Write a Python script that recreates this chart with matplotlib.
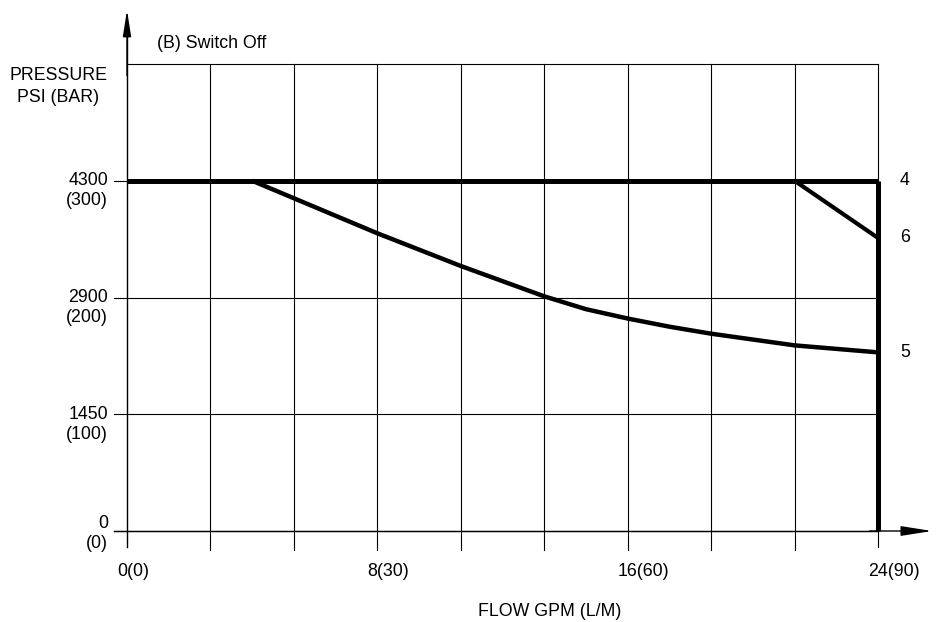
import matplotlib
matplotlib.use("Agg")
import matplotlib.pyplot as plt

plt.rcParams['font.family'] = ['Liberation Sans', 'DejaVu Sans']

# ---- data (flow in L/M, pressure in bar) ----
flow_grid = [0, 10, 20, 30, 40, 50, 60, 70, 80, 90]
pressure_grid = [0, 100, 200, 300, 400]

x_tick_values = [0, 30, 60, 90]
x_tick_labels = ["0(0)", "8(30)", "16(60)", "24(90)"]

y_tick_values = [300, 200, 100, 0]
y_tick_psi = ["4300", "2900", "1450", "0"]
y_tick_bar = ["(300)", "(200)", "(100)", "(0)"]

curve4_flow = [0, 90]
curve4_pressure = [300, 300]

curve6_flow = [80, 90]
curve6_pressure = [300, 251]

curve5_flow = [15, 20, 30, 40, 45, 50, 55, 60, 65, 70, 75, 80, 85, 90]
curve5_pressure = [300, 285, 255, 227, 214, 201, 190, 182, 175, 169, 164, 159, 156, 153]

cutoff_flow = [90, 90]
cutoff_pressure = [300, 0]

curve_labels = ["4", "6", "5"]
curve_label_pressure = [300, 251, 153]

W, H = 938, 622
fig = plt.figure(figsize=(W / 100, H / 100), dpi=100)
ax = fig.add_axes([127 / W, (H - 531) / H, (878 - 127) / W, (531 - 64) / H])
ax.set_xlim(0, 90)
ax.set_ylim(0, 400)
ax.axis('off')

px_x = 90 / (878 - 127)   # data per pixel in x
px_y = 400 / (531 - 64)   # data per pixel in y

# grid
for f in flow_grid[1:-1]:
    ax.plot([f, f], [-19 * px_y, 400], color='black', lw=0.8, clip_on=False)
ax.plot([90, 90], [-16 * px_y, 400], color='black', lw=0.8, clip_on=False)
for p in pressure_grid:
    ax.plot([0, 90], [p, p], color='black', lw=0.8, clip_on=False)
# y tick stubs
for p in y_tick_values:
    ax.plot([-13 * px_x, 0], [p, p], color='black', lw=0.8, clip_on=False)

# axes with arrows
ax.plot([0, 0], [-16 * px_y, 400 + 30 * px_y], color='black', lw=1.0, clip_on=False)
ax.annotate('', xy=(0, 400 + 54 * px_y), xytext=(0, 390),
            arrowprops=dict(arrowstyle='-|>,head_length=1.6,head_width=0.25',
                            color='black', lw=1.0, shrinkA=0, shrinkB=0),
            annotation_clip=False)
ax.plot([-13 * px_x, 90], [0, 0], color='black', lw=1.0, clip_on=False)
ax.annotate('', xy=(90 + 54 * px_x, 0), xytext=(89, 0),
            arrowprops=dict(arrowstyle='-|>,head_length=1.9,head_width=0.3',
                            color='black', lw=1.0, shrinkA=0, shrinkB=0),
            annotation_clip=False)

# curves
lw = 3.6
ax.plot(curve4_flow, curve4_pressure, color='black', lw=lw, solid_capstyle='butt', clip_on=False)
ax.plot(curve6_flow, curve6_pressure, color='black', lw=lw - 0.6, solid_capstyle='butt', clip_on=False)
ax.plot(curve5_flow, curve5_pressure, color='black', lw=lw - 0.4, solid_capstyle='butt',
        solid_joinstyle='round', clip_on=False)
ax.plot(cutoff_flow, cutoff_pressure, color='black', lw=lw, solid_capstyle='butt', clip_on=False)

fs = 12.8
# curve labels
for lab, p in zip(curve_labels, curve_label_pressure):
    ax.text(90 + 27 * px_x, p, lab, ha='center', va='center', fontsize=fs)

# y tick labels
for p, s1, s2 in zip(y_tick_values, y_tick_psi, y_tick_bar):
    off1 = 0 if p > 0 else 7
    ax.text(-19 * px_x, p + off1 * px_y, s1, ha='right', va='center', fontsize=fs)
    ax.text(-19 * px_x, p + (off1 - 20) * px_y, s2, ha='right', va='center', fontsize=fs)

# x tick labels
for v, s in zip(x_tick_values, x_tick_labels):
    ax.text(v - 10 * px_x, -40 * px_y, s, ha='left', va='center', fontsize=fs)

# titles
fig.text(157 / W, 1 - 44 / H, "(B) Switch Off", ha='left', va='center', fontsize=fs)
fig.text(58 / W, 1 - 75 / H, "PRESSURE", ha='center', va='center', fontsize=fs)
fig.text(58 / W, 1 - 97 / H, "PSI (BAR)", ha='center', va='center', fontsize=fs)
fig.text(550 / W, 1 - 611 / H, "FLOW GPM (L/M)", ha='center', va='center', fontsize=fs)

fig.savefig('out.png', dpi=100, facecolor='white')
